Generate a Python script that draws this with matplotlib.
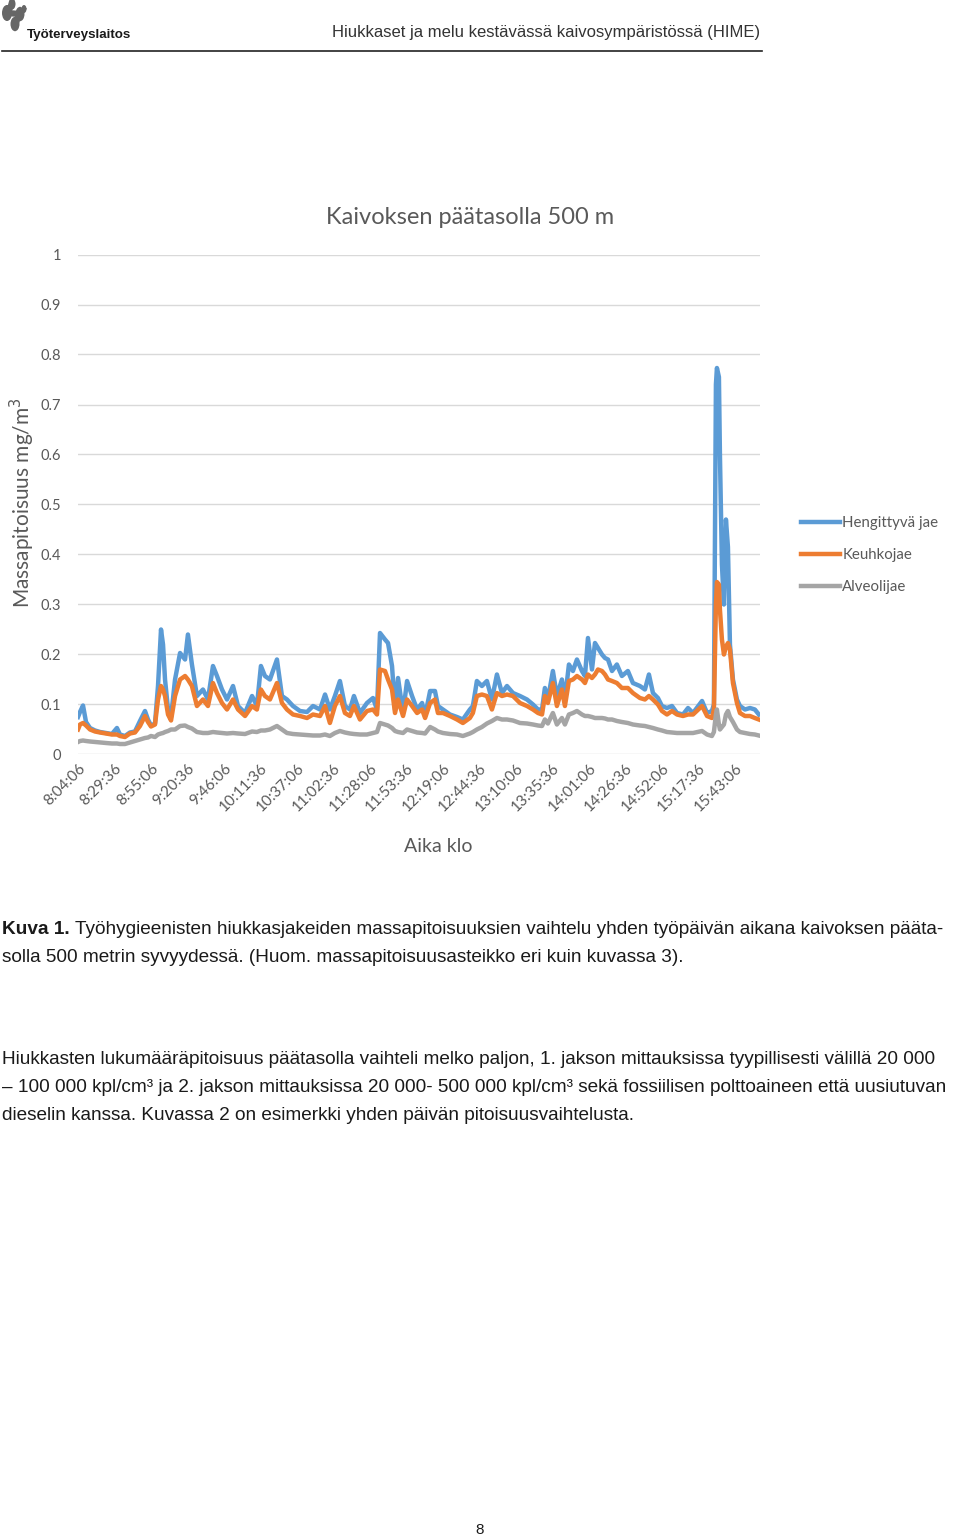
import matplotlib
matplotlib.use("Agg")
import matplotlib.pyplot as plt
from matplotlib.lines import Line2D
from matplotlib.patches import Circle

# ---------------- data ----------------
# minutes after 8:04:06
time_min = [0, 1.4, 3.5, 5.6, 8.4, 11.9, 15.4, 19.6, 23.7, 27.2, 29.3, 32.8, 36.3, 39.8,
            43.3, 46.8, 48.9, 51.0, 53.8, 55.9, 58.0, 59.4, 60.8, 62.9, 65.0, 67.8, 71.3,
            74.8, 76.8, 79.6, 83.1, 87.3, 90.8, 94.3, 97.1, 100.6, 104.1, 108.3, 111.8,
            116.7, 121.6, 125.0, 127.8, 130.6, 134.1, 139.0, 142.5, 146.0, 150.2, 155.1,
            160.0, 164.2, 169.1, 172.6, 176.0, 179.5, 183.0, 186.5, 190.0, 192.8, 197.0,
            201.9, 206.1, 208.9, 211.0, 214.5, 216.6, 219.4, 221.5, 223.6, 227.1, 229.9,
            233.4, 236.9, 240.4, 242.5, 246.0, 249.4, 251.5, 255.0, 259.9, 264.8, 268.9,
            273.8, 275.9, 278.7, 282.2, 285.7, 289.2, 292.7, 296.2, 299.7, 303.9, 308.8,
            313.7, 317.9, 321.4, 324.2, 326.2, 328.3, 331.8, 334.6, 338.1, 340.2, 343.0,
            345.8, 348.6, 352.1, 354.2, 356.3, 359.1, 361.2, 363.3, 366.1, 368.2, 370.3,
            373.1, 376.5, 380.0, 384.2, 387.7, 392.6, 396.1, 398.9, 401.7, 405.2, 408.0,
            411.5, 415.0, 418.5, 422.7, 426.2, 429.7, 436.0, 439.5, 442.9, 444.3, 445.7,
            446.4, 447.8, 448.5, 449.9, 451.3, 452.7, 454.1, 455.5, 457.6, 460.4, 462.5,
            466.0, 469.5, 472.9, 475.7]

hengittyva = [0.075, 0.085, 0.098, 0.065, 0.053, 0.048, 0.045, 0.043, 0.041, 0.053, 0.040,
              0.037, 0.044, 0.046, 0.067, 0.087, 0.070, 0.058, 0.062, 0.137, 0.250, 0.220,
              0.150, 0.090, 0.075, 0.150, 0.203, 0.190, 0.240, 0.180, 0.117, 0.130, 0.110,
              0.177, 0.157, 0.130, 0.110, 0.137, 0.097, 0.083, 0.117, 0.097, 0.177, 0.157,
              0.150, 0.190, 0.117, 0.110, 0.097, 0.087, 0.085, 0.097, 0.090, 0.120, 0.090,
              0.117, 0.147, 0.097, 0.090, 0.117, 0.083, 0.103, 0.113, 0.090, 0.243, 0.230,
              0.223, 0.177, 0.090, 0.153, 0.083, 0.147, 0.117, 0.090, 0.103, 0.077, 0.127,
              0.127, 0.097, 0.090, 0.080, 0.075, 0.070, 0.090, 0.097, 0.147, 0.137, 0.147,
              0.110, 0.160, 0.123, 0.137, 0.123, 0.117, 0.110, 0.100, 0.090, 0.090, 0.133,
              0.110, 0.167, 0.117, 0.150, 0.110, 0.180, 0.167, 0.190, 0.167, 0.157, 0.233,
              0.170, 0.223, 0.213, 0.200, 0.193, 0.190, 0.167, 0.180, 0.157, 0.167, 0.143,
              0.137, 0.130, 0.160, 0.123, 0.113, 0.097, 0.093, 0.097, 0.083, 0.080, 0.093,
              0.083, 0.107, 0.083, 0.087, 0.100, 0.740, 0.773, 0.755, 0.600, 0.380, 0.300,
              0.470, 0.415, 0.220, 0.150, 0.110, 0.097, 0.090, 0.093, 0.090, 0.080]

keuhko = [0.050, 0.060, 0.063, 0.058, 0.050, 0.046, 0.044, 0.042, 0.040, 0.040, 0.037,
          0.035, 0.042, 0.044, 0.057, 0.077, 0.065, 0.056, 0.060, 0.110, 0.137, 0.130,
          0.117, 0.080, 0.068, 0.117, 0.150, 0.157, 0.150, 0.137, 0.097, 0.110, 0.097,
          0.143, 0.123, 0.103, 0.090, 0.110, 0.090, 0.077, 0.097, 0.090, 0.130, 0.117,
          0.110, 0.143, 0.103, 0.090, 0.080, 0.077, 0.073, 0.080, 0.077, 0.097, 0.063,
          0.097, 0.117, 0.083, 0.077, 0.097, 0.070, 0.087, 0.090, 0.080, 0.170, 0.167,
          0.150, 0.130, 0.083, 0.110, 0.077, 0.110, 0.097, 0.083, 0.090, 0.073, 0.103,
          0.110, 0.083, 0.083, 0.077, 0.070, 0.063, 0.073, 0.083, 0.117, 0.120, 0.117,
          0.090, 0.123, 0.117, 0.120, 0.117, 0.103, 0.097, 0.090, 0.083, 0.080, 0.117,
          0.103, 0.143, 0.097, 0.130, 0.097, 0.147, 0.150, 0.157, 0.150, 0.143, 0.160,
          0.153, 0.160, 0.170, 0.167, 0.160, 0.150, 0.147, 0.143, 0.133, 0.133, 0.123,
          0.113, 0.110, 0.117, 0.110, 0.100, 0.087, 0.080, 0.087, 0.080, 0.077, 0.080,
          0.080, 0.097, 0.077, 0.073, 0.090, 0.300, 0.345, 0.340, 0.290, 0.230, 0.200,
          0.215, 0.223, 0.210, 0.143, 0.103, 0.083, 0.077, 0.077, 0.073, 0.070]

alveoli = [0.025, 0.027, 0.028, 0.027, 0.026, 0.025, 0.024, 0.023, 0.022, 0.022, 0.021,
           0.021, 0.024, 0.027, 0.030, 0.033, 0.034, 0.037, 0.035, 0.040, 0.042, 0.043,
           0.045, 0.047, 0.050, 0.050, 0.057, 0.058, 0.055, 0.052, 0.045, 0.043, 0.043,
           0.045, 0.044, 0.043, 0.042, 0.043, 0.042, 0.041, 0.046, 0.045, 0.048, 0.048,
           0.050, 0.057, 0.050, 0.043, 0.041, 0.040, 0.039, 0.038, 0.038, 0.040, 0.037,
           0.043, 0.047, 0.044, 0.042, 0.041, 0.040, 0.040, 0.043, 0.045, 0.063, 0.060,
           0.058, 0.053, 0.047, 0.045, 0.043, 0.050, 0.047, 0.044, 0.043, 0.042, 0.055,
           0.050, 0.046, 0.043, 0.041, 0.040, 0.037, 0.042, 0.045, 0.050, 0.055, 0.062,
           0.067, 0.073, 0.070, 0.070, 0.068, 0.063, 0.062, 0.060, 0.058, 0.057, 0.070,
           0.062, 0.083, 0.060, 0.073, 0.060, 0.080, 0.083, 0.087, 0.080, 0.077, 0.077,
           0.075, 0.073, 0.073, 0.073, 0.072, 0.070, 0.070, 0.067, 0.065, 0.063, 0.060,
           0.058, 0.057, 0.055, 0.053, 0.050, 0.048, 0.045, 0.044, 0.043, 0.043, 0.043,
           0.043, 0.047, 0.040, 0.037, 0.045, 0.080, 0.090, 0.060, 0.050, 0.055, 0.060,
           0.080, 0.087, 0.075, 0.065, 0.050, 0.045, 0.043, 0.041, 0.040, 0.038]

tick_labels = ["8:04:06", "8:29:36", "8:55:06", "9:20:36", "9:46:06", "10:11:36",
               "10:37:06", "11:02:36", "11:28:06", "11:53:36", "12:19:06", "12:44:36",
               "13:10:06", "13:35:36", "14:01:06", "14:26:36", "14:52:06", "15:17:36",
               "15:43:06"]
tick_step_min = 25.5
series_names = ["Hengittyvä jae", "Keuhkojae", "Alveolijae"]
series_colors = ["#5b9bd5", "#ed7d31", "#a5a5a5"]

# ---------------- figure ----------------
W, H = 960, 1539
fig = plt.figure(figsize=(W / 100, H / 100), dpi=100)

def fx(px):
    return px / W

def fy(py):
    return 1 - py / H

FONT = "Lato"
GRAY_TXT = "#595959"

ax = fig.add_axes([fx(78), fy(754.5), fx(760) - fx(78), 500 / H])
for vals, name, col in zip([hengittyva, keuhko, alveoli], series_names, series_colors):
    ax.plot(time_min, vals, color=col, lw=3.2, label=name, solid_joinstyle="round")

ax.set_xlim(0, 476.5)
ax.set_ylim(0, 1)
ax.set_yticks([i / 10 for i in range(11)])
ax.set_yticklabels(["0", "0.1", "0.2", "0.3", "0.4", "0.5", "0.6", "0.7", "0.8", "0.9", "1"],
                   fontsize=10.5, color=GRAY_TXT, family=FONT)
ax.set_xticks([i * tick_step_min for i in range(len(tick_labels))])
ax.set_xticklabels(tick_labels, rotation=45, ha="right", rotation_mode="anchor",
                   fontsize=11, color=GRAY_TXT, family=FONT)
ax.tick_params(axis="both", length=0)
ax.tick_params(axis="y", pad=12)
ax.tick_params(axis="x", pad=5)
ax.grid(axis="y", color="#d9d9d9", lw=1)
ax.set_axisbelow(True)
for s in ax.spines.values():
    s.set_visible(False)

fig.text(fx(470), fy(217), "Kaivoksen päätasolla 500 m", ha="center", va="center",
         fontsize=17, color=GRAY_TXT, family=FONT)
fig.text(fx(22), fy(503), "Massapitoisuus mg/m$^3$", ha="center", va="center", rotation=90,
         fontsize=15, color=GRAY_TXT, family=FONT)
fig.text(fx(438), fy(846), "Aika klo", ha="center", va="center",
         fontsize=14, color=GRAY_TXT, family=FONT)

leg = fig.legend(loc="upper left", bbox_to_anchor=(fx(801), fy(516)), frameon=False,
                 handlelength=2.6, handletextpad=0.15, labelspacing=1.2,
                 prop={"family": FONT, "size": 10.8}, borderaxespad=0, borderpad=0)
for t in leg.get_texts():
    t.set_color(GRAY_TXT)
for l in leg.get_lines():
    l.set_linewidth(3.2)

# ---------------- page header ----------------
logo_col = "#666666"
logo_pts = [(12, 4, 3.5), (7, 13, 5), (20, 14, 4.5), (15, 24, 4.5), (24, 9, 2.5)]
for (cx, cy, r) in logo_pts:
    fig.add_artist(Circle((fx(cx), fy(cy)), r / W, transform=fig.transFigure,
                          color=logo_col, lw=0))
fig.add_artist(Line2D([fx(12), fx(7), fx(20), fx(15)], [fy(4), fy(13), fy(14), fy(24)],
                      transform=fig.transFigure, color=logo_col, lw=4.5,
                      solid_capstyle="round"))
fig.add_artist(Line2D([fx(20), fx(24)], [fy(14), fy(9)],
                      transform=fig.transFigure, color=logo_col, lw=3))
fig.text(fx(27), fy(35), "Työterveyslaitos", ha="left", va="center", fontsize=9.6,
         fontweight="bold", color="#1a1a1a", family="Liberation Sans")
fig.text(fx(760), fy(33), "Hiukkaset ja melu kestävässä kaivosympäristössä (HIME)",
         ha="right", va="center", fontsize=12, color="#333333", family="Liberation Sans")
fig.add_artist(Line2D([fx(2), fx(762)], [fy(51), fy(51)], transform=fig.transFigure,
                      color="#222222", lw=1.2))

# ---------------- body text ----------------
BODY = dict(fontsize=13.7, color="#1a1a1a", family="Liberation Sans", va="center", ha="left")
t1 = fig.text(fx(2), fy(929), "Kuva 1.", fontweight="bold", **BODY)
fig.canvas.draw()
bb = t1.get_window_extent()
fig.text((bb.x1 + 5) / W, fy(929),
         "Työhygieenisten hiukkasjakeiden massapitoisuuksien vaihtelu yhden työpäivän aikana kaivoksen pääta-",
         **BODY)
fig.text(fx(2), fy(957),
         "solla 500 metrin syvyydessä. (Huom. massapitoisuusasteikko eri kuin kuvassa 3).", **BODY)
fig.text(fx(2), fy(1060),
         "Hiukkasten lukumääräpitoisuus päätasolla vaihteli melko paljon, 1. jakson mittauksissa tyypillisesti välillä 20 000",
         **BODY)
fig.text(fx(2), fy(1088),
         "– 100 000 kpl/cm³ ja 2. jakson mittauksissa 20 000- 500 000 kpl/cm³ sekä fossiilisen polttoaineen että uusiutuvan",
         **BODY)
fig.text(fx(2), fy(1116),
         "dieselin kanssa. Kuvassa 2 on esimerkki yhden päivän pitoisuusvaihtelusta.", **BODY)
fig.text(fx(480), fy(1530), "8", ha="center", va="center", fontsize=11,
         color="#1a1a1a", family="Liberation Sans")

fig.savefig("out.png", dpi=100)
